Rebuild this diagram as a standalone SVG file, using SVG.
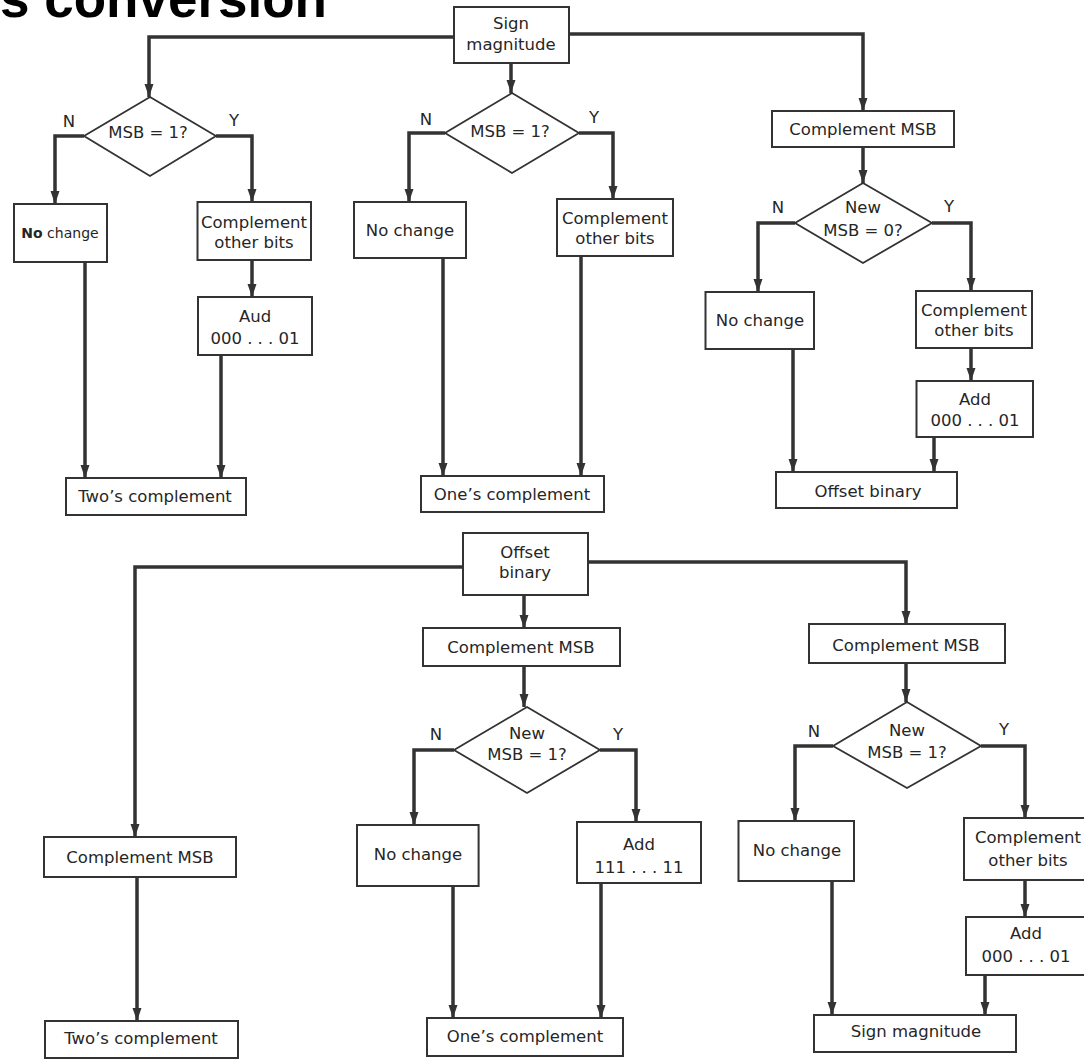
<svg xmlns="http://www.w3.org/2000/svg" width="1084" height="1060" viewBox="0 0 1084 1060">
<style>
.box{fill:#fff;stroke:#333;stroke-width:2}
.dia{fill:#fff;stroke:#333;stroke-width:1.8}
.t{font-family:"DejaVu Sans","Liberation Sans",sans-serif;font-size:16.5px;fill:#262626;text-anchor:middle}
.c{fill:none;stroke:#333;stroke-width:3.5;stroke-linejoin:miter;marker-end:url(#ah)}
.title{font-family:"Liberation Sans",Arial,sans-serif;font-weight:bold;font-size:53px;fill:#000}
</style>
<defs>
<marker id="ah" markerUnits="userSpaceOnUse" viewBox="0 -5 13 10" markerWidth="13" markerHeight="10" refX="13" refY="0" orient="auto">
<path d="M0,-4.5 L13,0 L0,4.5 z" fill="#333"/>
</marker>
</defs>
<rect width="1084" height="1060" fill="#fff"/>
<text class="title" x="0" y="17">s conversion</text>

<g id="connectors">
<path class="c" d="M454,37 H149 V97"/>
<path class="c" d="M511,63 V93"/>
<path class="c" d="M569,34 H863 V111"/>
<path class="c" d="M84,136 H55 V204"/>
<path class="c" d="M216,136 H252 V202"/>
<path class="c" d="M252,260 V297"/>
<path class="c" d="M85,262 V478"/>
<path class="c" d="M221,355 V478"/>
<path class="c" d="M445,133 H409 V202"/>
<path class="c" d="M579,133 H613 V199"/>
<path class="c" d="M443,258 V476"/>
<path class="c" d="M581,256 V476"/>
<path class="c" d="M863,147 V183"/>
<path class="c" d="M795,223 H758 V292"/>
<path class="c" d="M932,223 H971 V291"/>
<path class="c" d="M971,348 V381"/>
<path class="c" d="M793,349 V472"/>
<path class="c" d="M934,437 V472"/>
<path class="c" d="M463,567 H135 V837"/>
<path class="c" d="M524,595 V628"/>
<path class="c" d="M588,562 H906 V624"/>
<path class="c" d="M524,666 V707"/>
<path class="c" d="M454,750 H414 V825"/>
<path class="c" d="M600,750 H636 V822"/>
<path class="c" d="M453,886 V1018"/>
<path class="c" d="M601,883 V1018"/>
<path class="c" d="M137,877 V1021"/>
<path class="c" d="M906,663 V702"/>
<path class="c" d="M833,746 H795 V821"/>
<path class="c" d="M981,746 H1025 V818"/>
<path class="c" d="M1025,880 V917"/>
<path class="c" d="M832,881 V1015"/>
<path class="c" d="M985,975 V1015"/>
</g>

<g id="labels">
<text class="t" x="69" y="127">N</text>
<text class="t" x="234" y="126">Y</text>
<text class="t" x="426" y="125">N</text>
<text class="t" x="594" y="123">Y</text>
<text class="t" x="778" y="213">N</text>
<text class="t" x="949" y="212">Y</text>
<text class="t" x="436" y="740">N</text>
<text class="t" x="618" y="740">Y</text>
<text class="t" x="814" y="737">N</text>
<text class="t" x="1004" y="735">Y</text>
</g>

<g id="sign-magnitude-top"><rect class="box" x="454" y="7" width="115" height="56"/><text class="t" x="511" y="29">Sign</text><text class="t" x="511" y="50">magnitude</text></g>

<g id="msb1-a"><polygon class="dia" points="150,97 216,136 150,176 84,136"/><text class="t" x="148" y="138">MSB = 1?</text></g>
<g id="nochange-a"><rect class="box" x="14" y="204" width="93" height="58"/><text class="t" x="60" y="238" style="font-size:14px"><tspan font-weight="bold">No</tspan> change</text></g>
<g id="compother-a"><rect class="box" x="197.5" y="202" width="113.5" height="58"/><text class="t" x="254" y="228">Complement</text><text class="t" x="254" y="248">other bits</text></g>
<g id="add-a"><rect class="box" x="198" y="297" width="114" height="58"/><text class="t" x="255" y="322">Aud</text><text class="t" x="255" y="344">000 . . . 01</text></g>
<g id="twos-a"><rect class="box" x="66" y="478" width="180" height="37"/><text class="t" x="155" y="502">Two’s complement</text></g>

<g id="msb1-b"><polygon class="dia" points="512,93 579,133 512,173 445,133"/><text class="t" x="510" y="137">MSB = 1?</text></g>
<g id="nochange-b"><rect class="box" x="354" y="202" width="112" height="56"/><text class="t" x="410" y="236">No change</text></g>
<g id="compother-b"><rect class="box" x="557" y="199" width="116" height="57"/><text class="t" x="615" y="224">Complement</text><text class="t" x="615" y="244">other bits</text></g>
<g id="ones-a"><rect class="box" x="421" y="476" width="183" height="36"/><text class="t" x="512" y="500">One’s complement</text></g>

<g id="compmsb-a"><rect class="box" x="772" y="111" width="182" height="36"/><text class="t" x="863" y="135">Complement MSB</text></g>
<g id="newmsb0"><polygon class="dia" points="863,183 932,223 863,263 795,223"/><text class="t" x="863" y="213">New</text><text class="t" x="863" y="236">MSB = 0?</text></g>
<g id="nochange-c"><rect class="box" x="705.5" y="292" width="108.5" height="57"/><text class="t" x="760" y="326">No change</text></g>
<g id="compother-c"><rect class="box" x="916" y="291" width="116" height="57"/><text class="t" x="974" y="316">Complement</text><text class="t" x="974" y="336">other bits</text></g>
<g id="add-c"><rect class="box" x="916.5" y="381" width="116.5" height="56"/><text class="t" x="975" y="405">Add</text><text class="t" x="975" y="426">000 . . . 01</text></g>
<g id="offset-a"><rect class="box" x="776" y="472" width="181" height="36"/><text class="t" x="868" y="497">Offset binary</text></g>

<g id="offset-top"><rect class="box" x="463" y="533" width="125" height="62"/><text class="t" x="525" y="558">Offset</text><text class="t" x="525" y="578">binary</text></g>
<g id="compmsb-ll"><rect class="box" x="44" y="837" width="192" height="40"/><text class="t" x="140" y="863">Complement MSB</text></g>
<g id="twos-b"><rect class="box" x="45" y="1021" width="193" height="37"/><text class="t" x="141" y="1044">Two’s complement</text></g>

<g id="compmsb-mid"><rect class="box" x="423" y="628" width="197" height="38"/><text class="t" x="521" y="653">Complement MSB</text></g>
<g id="newmsb1-a"><polygon class="dia" points="527,707 600,750 527,793 454,750"/><text class="t" x="527" y="739">New</text><text class="t" x="527" y="760">MSB = 1?</text></g>
<g id="nochange-d"><rect class="box" x="357" y="825" width="121.6" height="61"/><text class="t" x="418" y="860">No change</text></g>
<g id="add-111"><rect class="box" x="577" y="822" width="124" height="61"/><text class="t" x="639" y="850">Add</text><text class="t" x="639" y="873">111 . . . 11</text></g>
<g id="ones-b"><rect class="box" x="427" y="1018" width="196" height="38"/><text class="t" x="525" y="1042">One’s complement</text></g>

<g id="compmsb-r"><rect class="box" x="809" y="624" width="196" height="39"/><text class="t" x="906" y="651">Complement MSB</text></g>
<g id="newmsb1-b"><polygon class="dia" points="907,702 981,746 907,788 833,746"/><text class="t" x="907" y="736">New</text><text class="t" x="907" y="758">MSB = 1?</text></g>
<g id="nochange-e"><rect class="box" x="738.5" y="821" width="115.5" height="60"/><text class="t" x="797" y="856">No change</text></g>
<g id="compother-e"><rect class="box" x="964" y="818" width="130" height="62"/><text class="t" x="1028" y="843">Complement</text><text class="t" x="1028" y="866">other bits</text></g>
<g id="add-e"><rect class="box" x="966" y="917" width="130" height="58"/><text class="t" x="1026" y="939">Add</text><text class="t" x="1026" y="962">000 . . . 01</text></g>
<g id="signmag-b"><rect class="box" x="814" y="1015" width="202" height="37"/><text class="t" x="916" y="1037">Sign magnitude</text></g>
</svg>
